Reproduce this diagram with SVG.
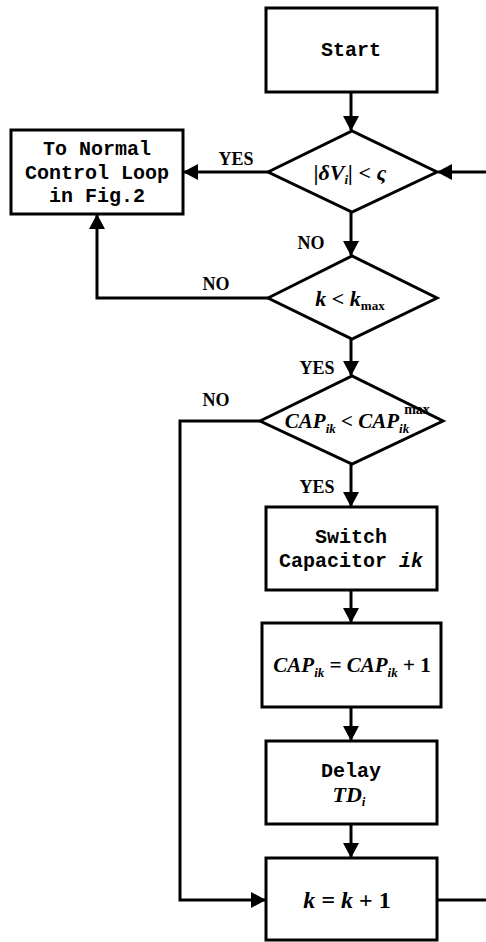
<svg xmlns="http://www.w3.org/2000/svg" width="486" height="942" viewBox="0 0 486 942">
<style>
.box{fill:#fff;stroke:#000;stroke-width:3}
.ln{fill:none;stroke:#000;stroke-width:3}
.mono{font-family:"Liberation Mono",monospace;font-weight:bold;font-size:20px;text-anchor:middle}
.lbl{font-family:"Liberation Serif",serif;font-weight:bold;font-size:18px;text-anchor:middle}
.math{font-family:"Liberation Serif",serif;font-style:italic;font-weight:bold;font-size:22px;text-anchor:middle}
.sub{font-size:13px}
.up{font-style:normal}
.sup{font-family:"Liberation Serif",serif;font-weight:bold;font-size:14px;text-anchor:middle}
</style>
<defs>
<marker id="ah" viewBox="0 0 15 16" refX="14" refY="8" markerWidth="15" markerHeight="16" markerUnits="userSpaceOnUse" orient="auto">
<path d="M0,0 L15,8 L0,16 z" fill="#000"/>
</marker>
</defs>
<g id="connectors">
<line class="ln" x1="351" y1="92" x2="351" y2="130" marker-end="url(#ah)"/>
<line class="ln" x1="268" y1="172" x2="184" y2="172" marker-end="url(#ah)"/>
<line class="ln" x1="486" y1="172" x2="438" y2="172" marker-end="url(#ah)"/>
<line class="ln" x1="351" y1="212" x2="351" y2="255" marker-end="url(#ah)"/>
<polyline class="ln" points="268,298 97,298 97,215" marker-end="url(#ah)"/>
<line class="ln" x1="351" y1="339" x2="351" y2="375" marker-end="url(#ah)"/>
<polyline class="ln" points="260,421 180,421 180,900 265,900" marker-end="url(#ah)"/>
<line class="ln" x1="351" y1="464" x2="351" y2="506" marker-end="url(#ah)"/>
<line class="ln" x1="351" y1="590" x2="351" y2="622" marker-end="url(#ah)"/>
<line class="ln" x1="351" y1="707" x2="351" y2="740" marker-end="url(#ah)"/>
<line class="ln" x1="351" y1="824" x2="351" y2="857" marker-end="url(#ah)"/>
<line class="ln" x1="437" y1="900" x2="486" y2="900"/>
<text class="lbl" x="236" y="165">YES</text>
<text class="lbl" x="311" y="249">NO</text>
<text class="lbl" x="216" y="290">NO</text>
<text class="lbl" x="317" y="374">YES</text>
<text class="lbl" x="216" y="406">NO</text>
<text class="lbl" x="317" y="493">YES</text>
</g>
<g id="start">
<rect class="box" x="266" y="8" width="171" height="84"/>
<text class="mono" x="351" y="56">Start</text>
</g>
<g id="normal">
<rect class="box" x="11" y="130" width="172" height="84"/>
<text class="mono" x="97" y="155">To Normal</text>
<text class="mono" x="97" y="179">Control Loop</text>
<text class="mono" x="97" y="202">in Fig.2</text>
</g>
<g id="d1">
<polygon class="box" points="268,172 352,131 437,172 352,212"/>
<text class="math" x="350" y="180">|δ<tspan>V</tspan><tspan class="sub" dy="4">i</tspan><tspan dy="-4">| &lt; ς</tspan></text>
</g>
<g id="d2">
<polygon class="box" points="268,298 352,256 437,298 352,339"/>
<text class="math" x="350" y="306">k &lt; k<tspan class="sub up" dy="4">max</tspan></text>
</g>
<g id="d3">
<polygon class="box" points="260,421 352,376 443,421 352,464"/>
<text class="math" x="347" y="428" style="font-size:21px">CAP<tspan class="sub" dy="5">ik</tspan><tspan dy="-5"> &lt; CAP</tspan><tspan class="sub" dy="5">ik</tspan></text>
<text class="sup" x="417" y="414">max</text>
</g>
<g id="switch">
<rect class="box" x="266" y="507" width="171" height="83"/>
<text class="mono" x="351" y="543">Switch</text>
<text class="mono" x="351" y="567">Capacitor <tspan style="font-style:italic">ik</tspan></text>
</g>
<g id="cap">
<rect class="box" x="262" y="623" width="179" height="84"/>
<text class="math" x="352" y="672" style="font-size:21px">CAP<tspan class="sub" dy="5">ik</tspan><tspan dy="-5"> = CAP</tspan><tspan class="sub" dy="5">ik</tspan><tspan class="up" dy="-5"> + 1</tspan></text>
</g>
<g id="delay">
<rect class="box" x="266" y="741" width="171" height="83"/>
<text class="mono" x="351" y="777">Delay</text>
<text class="math" x="349" y="802">TD<tspan class="sub" dy="4">i</tspan></text>
</g>
<g id="kinc">
<rect class="box" x="266" y="858" width="171" height="82"/>
<text class="math" x="347" y="908" style="font-size:24px">k = k <tspan class="up">+ 1</tspan></text>
</g>
</svg>
